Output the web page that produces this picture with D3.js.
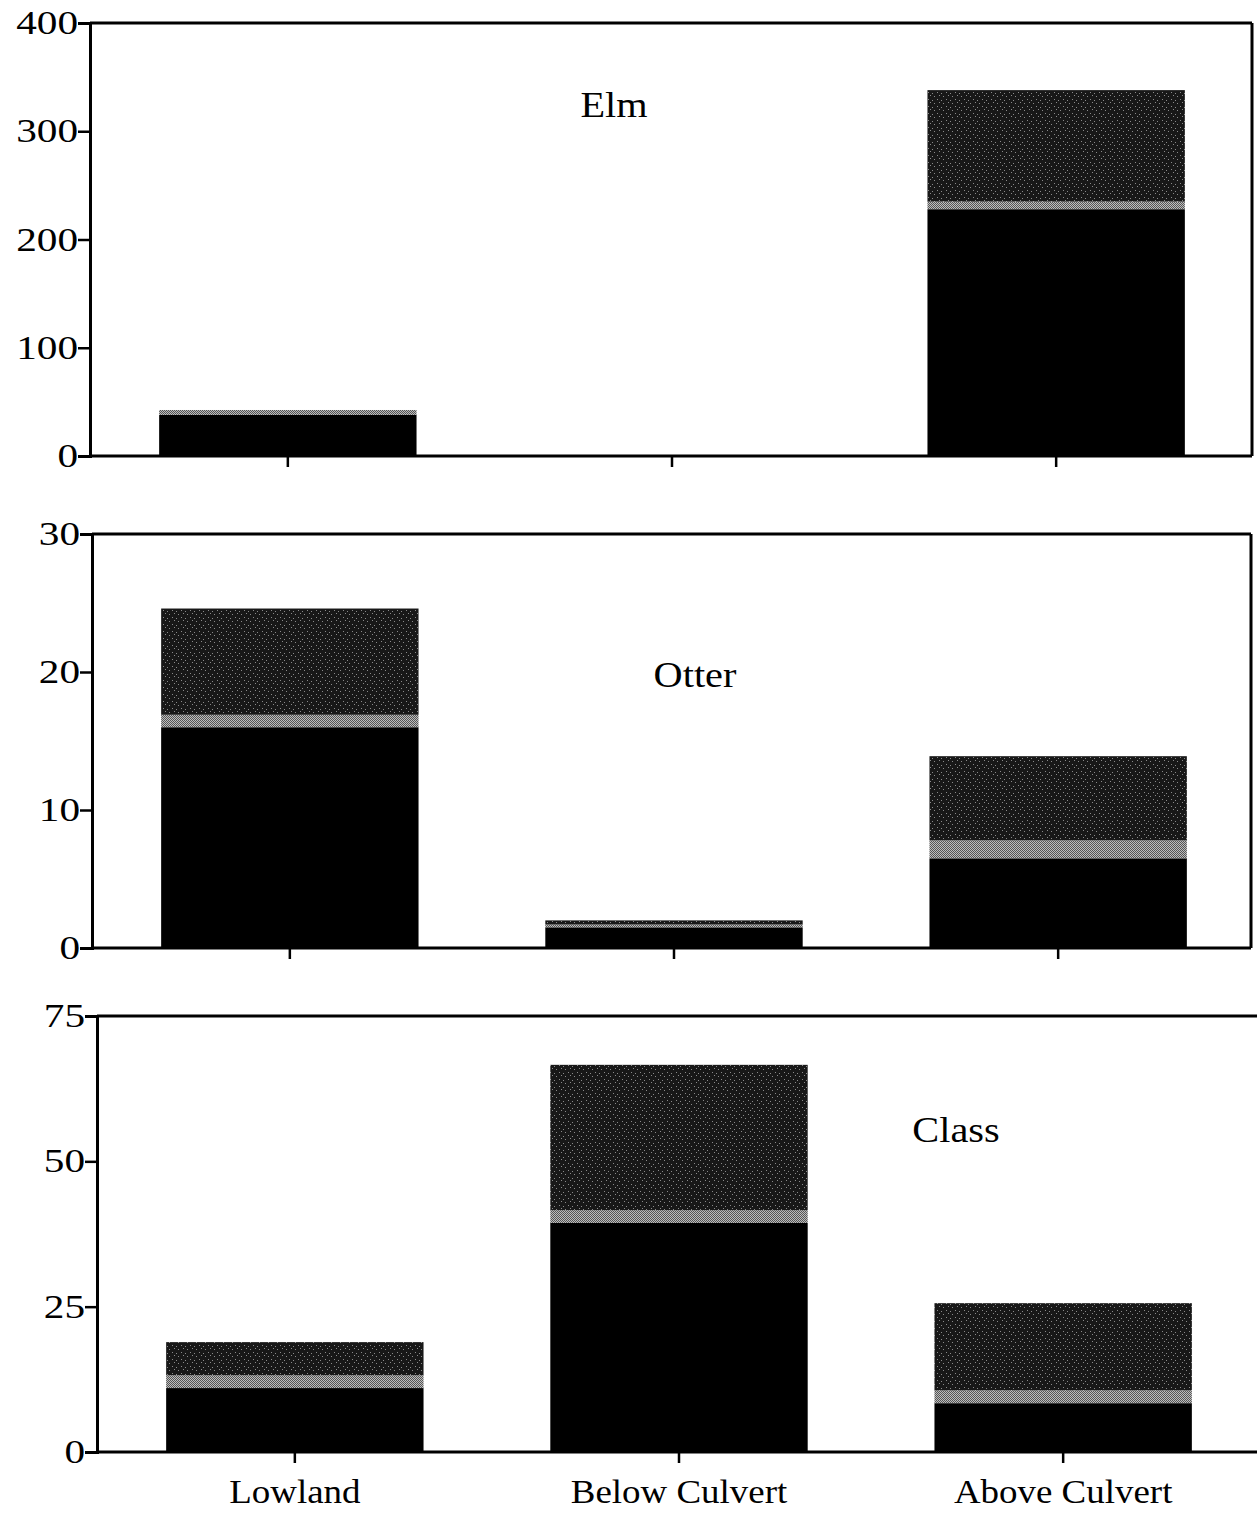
<!DOCTYPE html>
<html>
  <head>
    <meta charset="utf-8">
    <title>Elm, Otter, Class</title>
    <script src="https://d3js.org/d3.v7.min.js"></script>
    <style>
      body { margin: 0; background: #fff; }
      svg { display: block; }
      text { font-family: "Liberation Serif", "Times New Roman", serif; fill: #000; }
    </style>
  </head>
  <body>
    <div id="chart"></div>

    <script>
      // Categories and series
      var categories = ["Lowland", "Below Culvert", "Above Culvert"];
      var keys = ["base", "band", "top"];

      var elmBase = [38, 0, 228];
      var elmBand = [4.5, 0, 7];
      var elmTop  = [0, 0, 103];

      var otterBase = [16, 1.5, 6.5];
      var otterBand = [0.9, 0.2, 1.3];
      var otterTop  = [7.7, 0.3, 6.1];

      var classBase = [11, 39.4, 8.4];
      var classBand = [2.2, 2.2, 2.2];
      var classTop  = [5.7, 25, 15];

      var elmTicks = [0, 100, 200, 300, 400];
      var otterTicks = [0, 10, 20, 30];
      var classTicks = [0, 25, 50, 75];

      var width = 1257, height = 1513;
      var svg = d3.select("#chart").append("svg")
          .attr("width", width).attr("height", height);

      // Fill patterns: speckled dark top, light halftone band
      var defs = svg.append("defs");
      var pat = defs.append("pattern").attr("id", "dark")
          .attr("patternUnits", "userSpaceOnUse")
          .attr("width", 9).attr("height", 7);
      pat.append("rect").attr("width", 9).attr("height", 7).attr("fill", "#181818");
      [[1, 1], [5, 2], [3, 4], [7, 5]].forEach(function (p) {
        pat.append("rect").attr("x", p[0]).attr("y", p[1])
           .attr("width", 1).attr("height", 1).attr("fill", "#8a8a8a");
      });
      var pat2 = defs.append("pattern").attr("id", "light")
          .attr("patternUnits", "userSpaceOnUse")
          .attr("width", 2).attr("height", 2);
      pat2.append("rect").attr("width", 2).attr("height", 2).attr("fill", "#bdbdbd");
      pat2.append("rect").attr("width", 1).attr("height", 1).attr("fill", "#555");
      pat2.append("rect").attr("x", 1).attr("y", 1).attr("width", 1).attr("height", 1).attr("fill", "#555");

      var fills = { base: "#000", band: "url(#light)", top: "url(#dark)" };

      function rows(a, b, c) {
        return categories.map(function (cat, i) {
          return { cat: cat, base: a[i], band: b[i], top: c[i] };
        });
      }

      var panels = [
        { name: "Elm", data: rows(elmBase, elmBand, elmTop), max: 400, ticks: elmTicks,
          left: 90, right: 1252, top: 23, bottom: 456, tx: 614, ty: 117, frame: true },
        { name: "Otter", data: rows(otterBase, otterBand, otterTop), max: 30, ticks: otterTicks,
          left: 92, right: 1251, top: 534, bottom: 948, tx: 695, ty: 687, frame: true },
        { name: "Class", data: rows(classBase, classBand, classTop), max: 75, ticks: classTicks,
          left: 97, right: 1262, top: 1016, bottom: 1452, tx: 956, ty: 1142, frame: false }
      ];

      panels.forEach(function (p, pi) {
        var g = svg.append("g");
        var x = d3.scaleBand().domain(categories)
            .range([p.left, p.left + 1164])
            .paddingInner(0.33).paddingOuter(0.18);
        var y = d3.scaleLinear().domain([0, p.max]).range([p.bottom, p.top]);

        var series = d3.stack().keys(keys)(p.data);
        g.selectAll("g.s").data(series).enter().append("g")
          .attr("fill", function (d) { return fills[d.key]; })
          .selectAll("rect").data(function (d) { return d; }).enter().append("rect")
          .attr("x", function (d) { return x(d.data.cat); })
          .attr("width", x.bandwidth())
          .attr("y", function (d) { return y(d[1]); })
          .attr("height", function (d) { return Math.max(0, y(d[0]) - y(d[1])); });

        // Frame
        g.append("line").attr("x1", p.left).attr("x2", p.right)
          .attr("y1", p.top).attr("y2", p.top)
          .attr("stroke", "#000").attr("stroke-width", 3);
        if (p.frame) {
          g.append("line").attr("x1", p.right).attr("x2", p.right)
            .attr("y1", p.top).attr("y2", p.bottom)
            .attr("stroke", "#000").attr("stroke-width", 3);
        }

        // Y axis
        var yAxis = g.append("g").attr("transform", "translate(" + p.left + ",0)")
          .call(d3.axisLeft(y).tickValues(p.ticks).tickSize(12).tickPadding(0));
        yAxis.select(".domain").attr("stroke-width", 3);
        yAxis.selectAll(".tick line").attr("stroke-width", 2.5);
        yAxis.selectAll("text")
          .attr("x", -12 / 1.25)
          .attr("transform", "scale(1.25,1)")
          .style("font-size", "33px")
          .style("font-family", "'Liberation Serif', serif");

        // X axis
        var xAxis = g.append("g").attr("transform", "translate(0," + p.bottom + ")")
          .call(d3.axisBottom(x).tickSize(11).tickSizeOuter(0).tickPadding(17));
        xAxis.select(".domain").attr("d", "M" + p.left + ",0H" + p.right)
          .attr("stroke-width", 3);
        xAxis.selectAll(".tick line").attr("stroke-width", 2.5);
        xAxis.selectAll("text")
          .attr("transform", "scale(1.12,1)")
          .style("font-size", "33px")
          .style("font-family", "'Liberation Serif', serif")
          .style("display", pi === 2 ? null : "none");

        // Panel title
        g.append("text")
          .attr("transform", "translate(" + p.tx + "," + p.ty + ") scale(1.12,1)")
          .attr("text-anchor", "middle")
          .style("font-size", "36px")
          .text(p.name);
      });
    </script>
  </body>
</html>
